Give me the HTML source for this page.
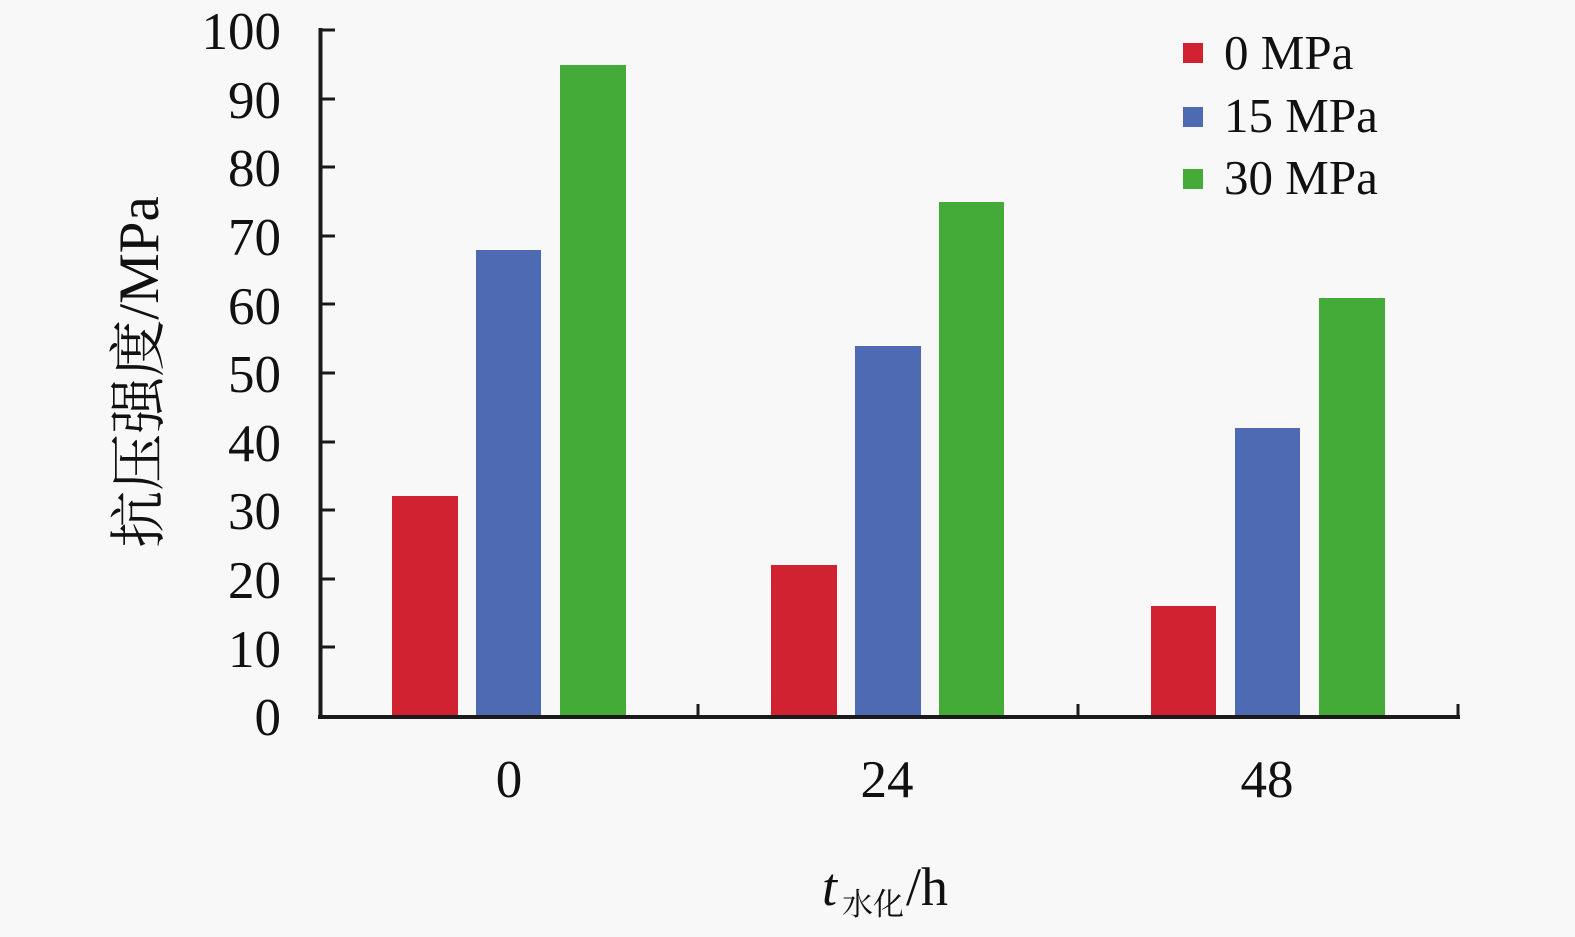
<!DOCTYPE html>
<html><head><meta charset="utf-8"><style>
body{margin:0;background:#f8f8f8;}
svg{display:block;}
text{font-family:"Liberation Serif","Noto Serif CJK SC",serif;fill:#111;}
</style></head><body>
<svg width="1575" height="937" xmlns="http://www.w3.org/2000/svg">
<rect width="1575" height="937" fill="#f8f8f8"/>
<g font-size="53" text-anchor="end">
<text x="281" y="49">100</text>
<text x="281" y="118">90</text>
<text x="281" y="186">80</text>
<text x="281" y="255">70</text>
<text x="281" y="324">60</text>
<text x="281" y="392">50</text>
<text x="281" y="461">40</text>
<text x="281" y="529">30</text>
<text x="281" y="598">20</text>
<text x="281" y="667">10</text>
<text x="281" y="735">0</text>
</g>
<g>
<rect x="392" y="496" width="66" height="220" fill="#d02231"/>
<rect x="476" y="250" width="65" height="466" fill="#4e6ab3"/>
<rect x="560" y="65" width="66" height="651" fill="#45ab38"/>
<rect x="771" y="565" width="66" height="151" fill="#d02231"/>
<rect x="855" y="346" width="66" height="370" fill="#4e6ab3"/>
<rect x="939" y="202" width="65" height="514" fill="#45ab38"/>
<rect x="1151" y="606" width="65" height="110" fill="#d02231"/>
<rect x="1235" y="428" width="65" height="288" fill="#4e6ab3"/>
<rect x="1319" y="298" width="66" height="418" fill="#45ab38"/>
</g>
<line x1="320.5" y1="28" x2="320.5" y2="719" stroke="#1a1a1a" stroke-width="4"/>
<line x1="318" y1="717" x2="1460" y2="717" stroke="#1a1a1a" stroke-width="4"/>
<g stroke="#1a1a1a" stroke-width="3">
<line x1="320" y1="30" x2="335" y2="30"/><line x1="320" y1="99" x2="335" y2="99"/>
<line x1="320" y1="167" x2="335" y2="167"/><line x1="320" y1="236" x2="335" y2="236"/>
<line x1="320" y1="304" x2="335" y2="304"/><line x1="320" y1="373" x2="335" y2="373"/>
<line x1="320" y1="442" x2="335" y2="442"/><line x1="320" y1="510" x2="335" y2="510"/>
<line x1="320" y1="579" x2="335" y2="579"/><line x1="320" y1="647" x2="335" y2="647"/>
<line x1="698" y1="704" x2="698" y2="717"/><line x1="1078" y1="704" x2="1078" y2="717"/>
<line x1="1458" y1="704" x2="1458" y2="717"/>
</g>
<g font-size="53" text-anchor="middle">
<text x="509" y="797">0</text>
<text x="887" y="797">24</text>
<text x="1267" y="797">48</text>
</g>
<text x="822" y="905" font-size="54" font-style="italic">t</text>
<text x="842" y="915" font-size="31">水化</text>
<text x="906" y="905" font-size="54">/h</text>
<text transform="translate(158,372) rotate(-90)" font-size="57" text-anchor="middle">抗压强度/MPa</text>
<rect x="1183" y="43" width="20" height="20" fill="#d02231"/>
<rect x="1183" y="107" width="20" height="20" fill="#4e6ab3"/>
<rect x="1183" y="169" width="20" height="20" fill="#45ab38"/>
<g font-size="49">
<text x="1224" y="69">0 MPa</text>
<text x="1224" y="132">15 MPa</text>
<text x="1224" y="194">30 MPa</text>
</g>
</svg>
</body></html>
